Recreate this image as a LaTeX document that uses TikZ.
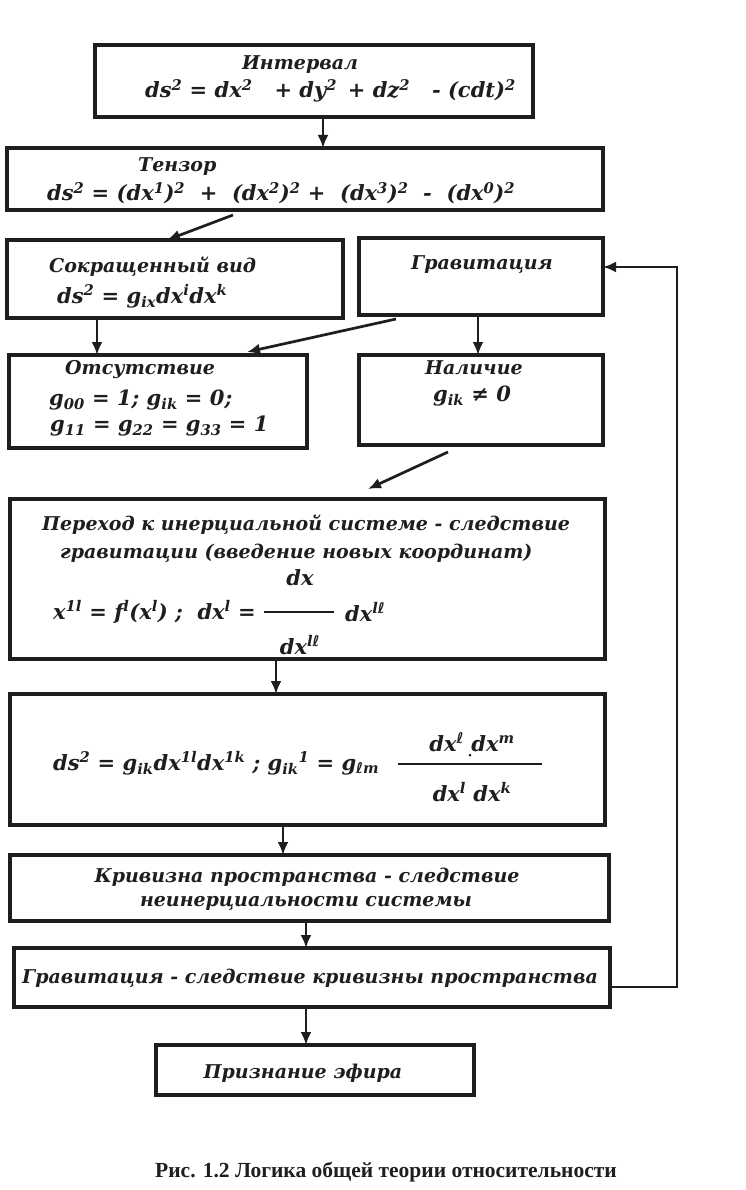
\documentclass[tikz,border=0pt]{standalone}
\usepackage{fontspec}
\usetikzlibrary{arrows.meta}
\setmainfont{DejaVu Serif}
\newfontfamily\boxfont{DejaVu Serif}
\newfontfamily\elfont{DejaVu Sans}
\newfontfamily\capfont{Liberation Serif}
\newcommand\Sp[1]{\textsuperscript{#1}}
\newcommand\Sb[1]{\textsubscript{#1}}
\newcommand\EL{{\elfont\bfseries\itshape ℓ}}
\definecolor{ink}{HTML}{1E1E1E}
\tikzset{
  box/.style={draw=ink, line width=3.4pt, rectangle, inner sep=0pt, outer sep=0pt},
  lbl/.style={font=\boxfont\bfseries\itshape\fontsize{19}{22}\selectfont, text=ink, inner sep=0pt, anchor=west},
  fml/.style={lbl, font=\boxfont\bfseries\itshape\fontsize{21}{24}\selectfont},
  arr/.style={draw=ink, line width=2.7pt, -{Latex[length=13pt,width=11pt]}},
  barline/.style={draw=ink, line width=1.8pt},
  captxt/.style={font=\capfont\bfseries\fontsize{21.5}{24}\selectfont, text=ink, inner sep=0pt}
}
\begin{document}
\begin{tikzpicture}[x=1pt,y=-1pt]
\useasboundingbox[fill=white] (0,0) rectangle (746,1190);
% boxes
\node[box, minimum width=438pt, minimum height=72pt]  (b1)  at (314,81) {};
\node[box, minimum width=596pt, minimum height=62pt]  (b2)  at (305,179) {};
\node[box, minimum width=336pt, minimum height=78pt]  (b3)  at (175,279) {};
\node[box, minimum width=244pt, minimum height=77pt]  (b4)  at (481,276.5) {};
\node[box, minimum width=298pt, minimum height=93pt]  (b5)  at (158,401.5) {};
\node[box, minimum width=244pt, minimum height=90pt]  (b6)  at (481,400) {};
\node[box, minimum width=595pt, minimum height=160pt] (b7)  at (307.5,579) {};
\node[box, minimum width=595pt, minimum height=131pt] (b8)  at (307.5,759.5) {};
\node[box, minimum width=599pt, minimum height=66pt]  (b9)  at (309.5,888) {};
\node[box, minimum width=596pt, minimum height=59pt]  (b10) at (312,977.5) {};
\node[box, minimum width=318pt, minimum height=50pt]  (b11) at (315,1070) {};
% texts
\node[lbl, anchor=center] (t1a) at (300,65) {Интервал};
\node[fml] (t1b) at (145,91) {ds\Sp{2} = dx\Sp{2} \ \ + dy\Sp{2} \,+ dz\Sp{2} \ \ - (cdt)\Sp{2}};
\node[lbl] (t2a) at (138,167) {Тензор};
\node[fml] (t2b) at (47,193) {ds\Sp{2} = (dx\Sp{1})\Sp{2} \ + \ (dx\Sp{2})\Sp{2} + \ (dx\Sp{3})\Sp{2} \ - \ (dx\Sp{0})\Sp{2}};
\node[lbl] (t3a) at (49,267) {Сокращенный вид};
\node[fml] (t3b) at (57,296) {ds\Sp{2} = g\Sb{ix}dx\Sp{i}dx\Sp{k}};
\node[lbl, anchor=east] (t4a) at (553,265) {Гравитация};
\node[lbl] (t5a) at (65,370) {Отсутствие};
\node[fml] (t5b) at (49,400) {g\Sb{00} = 1; g\Sb{ik} = 0;};
\node[fml] (t5c) at (50,426) {g\Sb{11} = g\Sb{22} = g\Sb{33} = 1};
\node[lbl] (t6a) at (425,368) {Наличие};
\node[fml] (t6b) at (433,396) {g\Sb{ik} ≠ 0};
\node[lbl] (t7a) at (42,525) {Переход к инерциальной системе - следствие};
\node[lbl] (t7b) at (60,553) {гравитации (введение новых координат)};
\node[fml] (t7c) at (53,612) {x\Sp{1l} = f\Sp{l}(x\Sp{l}) ; \ dx\Sp{l} =};
\node[fml, anchor=center] (t7d) at (300,578) {dx};
\node[fml] (t7e) at (345,612) {dx\Sp{l\EL}};
\node[fml, anchor=center] (t7f) at (300,645) {dx\Sp{l\EL}};
\draw[barline] (264,612) -- (334,612);
\node[fml] (t8a) at (53,763) {ds\Sp{2} = g\Sb{ik}dx\Sp{1l}dx\Sp{1k} ; g\Sb{ik}\Sp{1} = g\Sb{\EL m}};
\node[fml, anchor=center] (t8b) at (472,742) {dx\Sp{\EL} dx\Sp{m}};
\node[fml, anchor=center] (t8c) at (472,792) {dx\Sp{l} dx\Sp{k}};
\draw[barline] (398,764) -- (542,764);
\fill[ink] (470,755) circle (1.5);
\node[lbl, anchor=center] (t9a) at (307,877) {Кривизна пространства - следствие};
\node[lbl, anchor=center] (t9b) at (306,903) {неинерциальности системы};
\node[lbl, anchor=center] (t10a) at (310,978) {Гравитация - следствие кривизны пространства};
\node[lbl, anchor=center] (t11a) at (303,1073) {Признание эфира};
\node[captxt] (capt) at (386,1172) {Рис. 1.2 Логика общей теории относительности};
% connectors
\coordinate (x1) at (323,0);
\coordinate (x3) at (97,0);
\coordinate (x5) at (478,0);
\coordinate (x7) at (276,0);
\coordinate (x8) at (283,0);
\coordinate (x9) at (306,0);
\coordinate (s2) at (233,215);
\coordinate (e2) at (167,240);
\coordinate (s4) at (396,319);
\coordinate (e4) at (247,352);
\coordinate (s6) at (448,452);
\coordinate (e6) at (368,489);
\coordinate (fbx) at (677,0);
\coordinate (fby1) at (0,987);
\coordinate (fby2) at (0,267);
\draw[arr] (b1.south -| x1) -- (b2.north -| x1);
\draw[arr] (s2) -- (e2);
\draw[arr] (b3.south -| x3) -- (b5.north -| x3);
\draw[arr] (s4) -- (e4);
\draw[arr] (b4.south -| x5) -- (b6.north -| x5);
\draw[arr] (s6) -- (e6);
\draw[arr] (b7.south -| x7) -- (b8.north -| x7);
\draw[arr] (b8.south -| x8) -- (b9.north -| x8);
\draw[arr] (b9.south -| x9) -- (b10.north -| x9);
\draw[arr] (b10.south -| x9) -- (b11.north -| x9);
\draw[arr] (b10.east |- fby1) -- (fbx |- fby1) -- (fbx |- fby2) -- (b4.east |- fby2);
\end{tikzpicture}
\end{document}
